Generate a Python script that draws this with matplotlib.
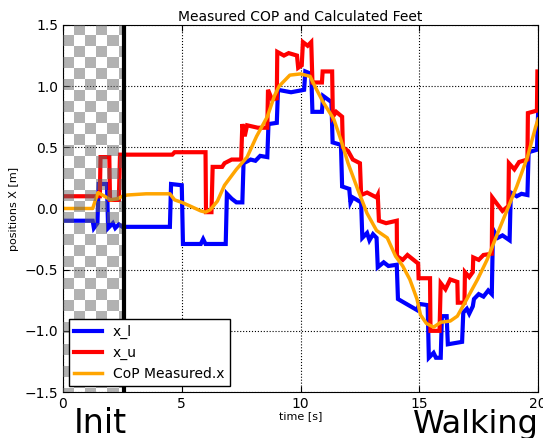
import numpy as np
import matplotlib
matplotlib.use('Agg')
import matplotlib.pyplot as plt

# time stamps and values
tLow = [0, 1.25, 1.3, 1.45, 1.5, 1.85, 1.9, 2.1, 2.2, 2.35, 2.5, 4.5, 4.55, 5.0, 5.05,
        5.8, 5.9, 6.0, 6.85, 6.9, 7.1, 7.3, 7.55, 7.6, 7.9, 8.1, 8.3, 8.6, 8.65, 9.0,
        9.05, 9.6, 10.15, 10.2, 10.45, 10.5, 10.9, 10.95, 11.3, 11.35, 11.7, 11.75,
        12.05, 12.1, 12.2, 12.55, 12.6, 12.8, 12.9, 13.05, 13.2, 13.25, 13.5, 13.7,
        14.05, 14.1, 14.9, 15.0, 15.35, 15.4, 15.6, 15.7, 15.9, 15.95, 16.15, 16.2,
        16.8, 16.85, 17.0, 17.1, 17.25, 17.3, 17.5, 17.7, 17.9, 18.05, 18.1, 18.3,
        18.5, 18.8, 18.85, 19.1, 19.3, 19.55, 19.6, 19.95, 20]
xLow = [-0.1, -0.1, -0.16, -0.12, 0.2, 0.2, -0.16, -0.12, -0.16, -0.13, -0.15, -0.15, 0.2, 0.19, -0.29,
        -0.29, -0.25, -0.29, -0.29, 0.12, 0.08, 0.05, 0.05, 0.37, 0.4, 0.39, 0.43, 0.42, 0.69, 0.7,
        0.97, 0.95, 0.97, 1.12, 1.1, 0.79, 0.79, 0.92, 0.87, 0.54, 0.52, 0.18,
        0.16, 0.05, 0.09, 0.05, -0.24, -0.2, -0.26, -0.21, -0.24, -0.48, -0.44, -0.47,
        -0.46, -0.74, -0.83, -0.78, -0.79, -1.22, -1.18, -1.22, -1.22, -0.88, -0.88, -1.11,
        -1.09, -0.85, -0.82, -0.86, -0.8, -0.74, -0.7, -0.72, -0.67, -0.7, -0.17, -0.24,
        -0.22, -0.26, 0.13, 0.1, 0.12, 0.11, 0.46, 0.48, 0.78]

tUp = [0, 1.55, 1.58, 1.95, 1.98, 2.35, 2.4, 4.6, 4.7, 6.0, 6.02, 6.25, 6.3, 6.7, 6.8,
       7.1, 7.5, 7.55, 7.65, 7.75, 8.2, 8.6, 8.63, 8.8, 9.0, 9.02, 9.3, 9.5, 9.85, 9.9,
       10.05, 10.1, 10.3, 10.45, 10.5, 10.9, 10.93, 11.33, 11.36, 11.5, 11.75, 11.78,
       12.0, 12.2, 12.5, 12.55, 12.8, 13.2, 13.25, 13.3, 13.6, 14.05, 14.06, 14.3, 14.5,
       14.95, 14.97, 15.45, 15.47, 15.85, 15.9, 16.1, 16.3, 16.6, 16.62, 16.9, 16.92,
       17.1, 17.25, 17.27, 17.5, 17.7, 18.05, 18.07, 18.3, 18.5, 18.75, 18.77, 19.0,
       19.2, 19.55, 19.57, 19.95, 19.97, 20]
xUp = [0.1, 0.1, 0.42, 0.42, 0.07, 0.07, 0.44, 0.44, 0.46, 0.46, -0.03, -0.03, 0.34, 0.34, 0.37,
       0.4, 0.4, 0.69, 0.59, 0.68, 0.66, 0.66, 0.97, 0.89, 0.9, 1.28, 1.25, 1.27, 1.25, 1.15,
       1.17, 1.36, 1.33, 1.36, 1.03, 1.03, 1.12, 1.12, 0.75, 0.79, 0.75, 0.5,
       0.47, 0.4, 0.37, 0.11, 0.13, 0.09, 0.11, -0.1, -0.12, -0.1, -0.39, -0.42, -0.38,
       -0.45, -0.57, -0.57, -1.0, -1.0, -0.61, -0.66, -0.58, -0.6, -0.77, -0.77, -0.52,
       -0.56, -0.52, -0.4, -0.42, -0.38, -0.37, 0.09, 0.03, -0.02, 0.02, 0.37, 0.32,
       0.38, 0.4, 0.78, 0.8, 1.12, 1.12]

tCop = [0, 1.25, 1.47, 1.75, 2.0, 2.3, 2.5, 2.7, 3.5, 4.5, 4.7, 5.0, 5.35, 5.8, 6.0,
        6.2, 6.5, 6.8, 7.3, 7.75, 8.15, 8.6, 8.9, 9.1, 9.55, 10.0, 10.4, 10.6, 10.95,
        11.4, 11.7, 12.0, 12.4, 12.8, 13.2, 13.65, 14.0, 14.3, 14.6, 14.9, 15.05, 15.3,
        15.6, 15.9, 16.3, 16.6, 17.0, 17.45, 17.85, 18.3, 18.7, 19.1, 19.55, 19.9, 20]
xCop = [0, 0, 0.13, 0.1, 0.07, 0.08, 0.1, 0.11, 0.12, 0.12, 0.07, 0.05, 0.02, -0.02, -0.03,
        -0.01, 0.06, 0.19, 0.32, 0.42, 0.59, 0.75, 0.92, 1.0, 1.09, 1.1, 1.08, 1.0, 0.87,
        0.73, 0.56, 0.37, 0.16, -0.04, -0.18, -0.24, -0.39, -0.47, -0.58, -0.74, -0.87, -0.94,
        -0.97, -0.93, -0.92, -0.88, -0.74, -0.58, -0.42, -0.2, -0.01, 0.18, 0.42, 0.67, 0.73]

INIT_END = 2.55

plt.rcParams['xtick.direction'] = 'in'
plt.rcParams['ytick.direction'] = 'in'
plt.rcParams['xtick.top'] = True
plt.rcParams['ytick.right'] = True
plt.rcParams['xtick.major.size'] = 4
plt.rcParams['ytick.major.size'] = 4

fig = plt.figure(figsize=(5.43, 4.38), dpi=100)
ax = fig.add_axes([0.116, 0.105, 0.875, 0.838])

ax.plot(tLow, xLow, color='blue', lw=3, label='x_l', solid_joinstyle='miter')
ax.plot(tUp, xUp, color='red', lw=3, label='x_u', solid_joinstyle='miter')
ax.plot(tCop, xCop, color='orange', lw=2.5, label='CoP Measured.x')

# checkerboard over the init phase (gray squares half transparent)
sqW = 0.463
sqH = 0.09
gx, gy = np.meshgrid(np.linspace(0, INIT_END, 200, endpoint=False) + INIT_END / 400,
                     1.5 - (np.linspace(0, 3, 800, endpoint=False) + 3 / 1600))
board = (np.floor(gx / sqW) + np.floor((1.5 - gy) / sqH)) % 2
img = np.zeros(board.shape + (4,))
img[..., 0:3] = 0.4
img[..., 3] = board * 0.5
ax.imshow(img, extent=[0, INIT_END, -1.5, 1.5], aspect='auto', zorder=3,
          interpolation='nearest')
ax.axvline(INIT_END, color='black', lw=3, zorder=4)

ax.set_xlim(0, 20)
ax.set_ylim(-1.5, 1.5)
ax.set_xticks([0, 5, 10, 15, 20])
ax.set_yticks([-1.5, -1.0, -0.5, 0.0, 0.5, 1.0, 1.5])
ax.set_yticklabels(['\u22121.5', '\u22121.0', '\u22120.5', '0.0', '0.5', '1.0', '1.5'])
ax.tick_params(labelsize=10)
ax.grid(True, color='black', linestyle=':', lw=0.8)
ax.set_title('Measured COP and Calculated Feet', fontsize=10, pad=3)
ax.set_xlabel('time [s]', fontsize=8, labelpad=0)
ax.set_ylabel('positions X [m]', fontsize=8)

leg = ax.legend(loc='lower left', fontsize=10, fancybox=False, framealpha=1,
                borderaxespad=0.4)
leg.get_frame().set_edgecolor('black')
leg.set_zorder(5)

fig.text(0.136, 0.012, 'Init', fontsize=24)
fig.text(0.76, 0.012, 'Walking', fontsize=23)

plt.savefig('out.png', dpi=100)
